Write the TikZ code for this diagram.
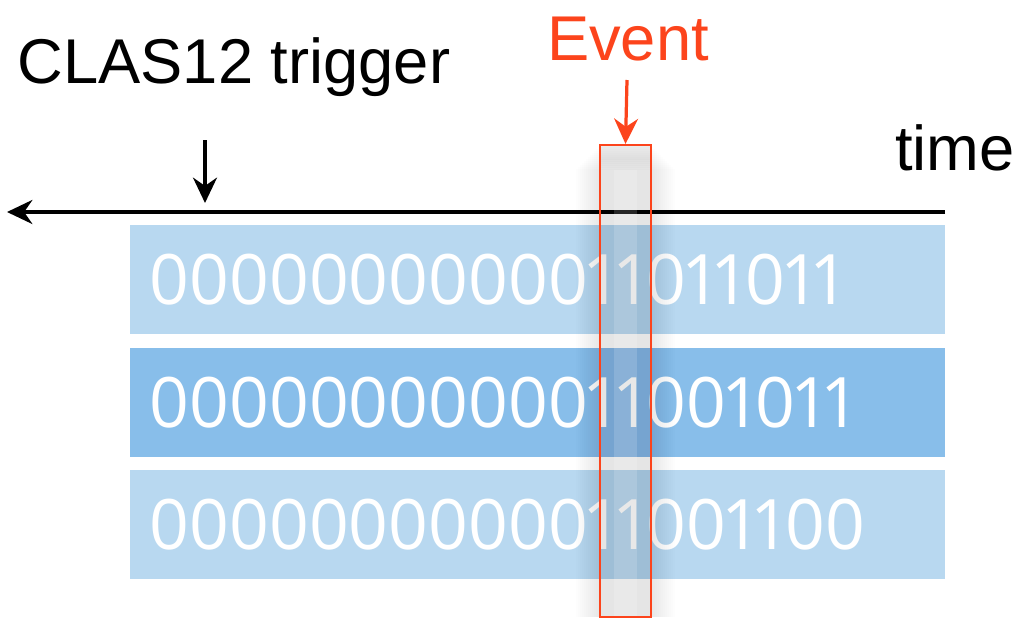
\documentclass[tikz,border=0pt]{standalone}
\usepackage{fontspec}
\setmainfont{Liberation Sans}
\newfontfamily\bitfont{Open Sans}
\usetikzlibrary{arrows.meta}
\definecolor{lightrow}{RGB}{184,216,240}
\definecolor{darkrow}{RGB}{136,190,234}
\definecolor{evred}{RGB}{252,68,28}
% a narrower one, as in the bit strings of the picture
\newcommand{\bone}{\makebox[0.74\fontcharwd\font`0][c]{1}}
\begin{document}
\begin{tikzpicture}[x=0.025cm, y=-0.025cm,
    lbl/.style = {font=\fontsize{45}{50}\selectfont, inner sep=0pt},
    row/.style = {minimum width=20.375cm, minimum height=2.725cm, inner xsep=0.5cm,
                  text width=19.375cm, align=left, text=white,
                  font=\bitfont\fontsize{49.5}{50}\selectfont},
    tip/.style = {-{Stealth[length=18pt, width=17pt]}},
    evbox/.style = {draw=evred, line width=1.4pt, minimum width=1.275cm,
                    minimum height=11.8cm, inner sep=0pt}]
  \useasboundingbox (0,0) rectangle (1020,619);
  % labels
  \node[lbl, anchor=base] (trg) at (234,83) {CLAS12 trigger};
  \node[lbl, anchor=base] (tm) at (955,170) {time};
  \node[lbl, anchor=base, text=evred] (evlbl) at (628,60) {Event};
  % time axis
  \coordinate (axstart) at (945,212);
  \coordinate (axend) at (7,212);
  \draw[tip, line width=2.85pt] (axstart) -- (axend);
  \coordinate (trgtail) at (205,140);
  \coordinate (trghead) at (205,203);
  \draw[tip, line width=2.85pt] (trgtail) -- (trghead);
  % bit rows
  \node[row, fill=lightrow] (r1) at (537.5,279.5) {00000000000\bone\bone0\bone\bone0\bone\bone};
  \node[row, fill=darkrow] (r2) at (537.5,402.5) {00000000000\bone\bone00\bone0\bone\bone};
  \node[row, fill=lightrow] (r3) at (537.5,524.5) {00000000000\bone\bone00\bone\bone00};
  % soft shadow round the event window
  \foreach \d in {0,2,...,24}
    \fill[black, opacity=0.006] (600-\d,145+\d) rectangle (651+\d,617);
  \foreach \d in {0,2,...,10}
    \fill[black, opacity=0.01] (600,145) rectangle (651,170-\d);
  \fill[white, opacity=0.15] (614,170) rectangle (637,617);
  % event window
  \node[evbox] (ev) at (625.5,381) {};
  \coordinate (evtail) at (627,80);
  \draw[tip, evred, line width=2.3pt] (evtail) -- (ev.north);
\end{tikzpicture}
\end{document}
